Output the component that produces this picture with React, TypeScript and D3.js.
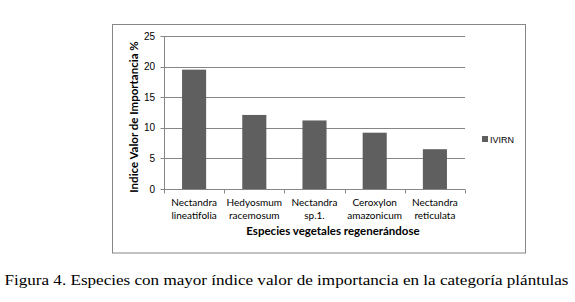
import React from "react";
import * as d3 from "d3";

const categories: string[][] = [
  ["Nectandra", "lineatifolia"],
  ["Hedyosmum", "racemosum"],
  ["Nectandra", "sp.1."],
  ["Ceroxylon", "amazonicum"],
  ["Nectandra", "reticulata"],
];
const values: number[] = [19.5, 12.1, 11.2, 9.2, 6.5];
const yTicks: number[] = [0, 5, 10, 15, 20, 25];
const seriesName = "IVIRN";
const yTitle = "Indice Valor de Importancia %";
const xTitle = "Especies vegetales regenerándose";
const caption =
  "Figura 4. Especies con mayor índice valor de importancia en la categoría plántulas";

export default function App() {
  const W = 575;
  const H = 302;
  const left = 164;
  const right = 465;
  const top = 36;
  const bottom = 189;
  const x = d3
    .scaleBand<number>()
    .domain(d3.range(values.length))
    .range([left, right])
    .paddingInner(0.6)
    .paddingOuter(0.3);
  const band = (right - left) / values.length;
  const y = d3.scaleLinear().domain([0, 25]).range([bottom, top]);
  const grid = "#868686";
  const barColor = "#5f5f5f";
  const sans = "Lato, 'Open Sans', sans-serif";
  const tickFont = "'Liberation Sans', Arial, sans-serif";

  return (
    <svg
      width={W}
      height={H}
      style={{ position: "absolute", left: 0, top: 0, background: "#fff" }}
    >
      <rect x={0} y={0} width={W} height={H} fill="#fff" />
      <rect
        x={112.5}
        y={24.5}
        width={413}
        height={228.5}
        fill="none"
        stroke={grid}
        strokeWidth={1}
      />
      {yTicks.map((t) => (
        <line
          key={"g" + t}
          x1={left - 3.5}
          x2={right}
          y1={Math.round(y(t)) + 0.5}
          y2={Math.round(y(t)) + 0.5}
          stroke={grid}
          strokeWidth={1}
        />
      ))}
      <line
        x1={left + 0.5}
        x2={left + 0.5}
        y1={Math.round(y(25)) + 0.5}
        y2={bottom + 0.5}
        stroke={grid}
      />
      {d3.range(values.length + 1).map((i) => (
        <line
          key={"xt" + i}
          x1={Math.round(left + i * band) + 0.5}
          x2={Math.round(left + i * band) + 0.5}
          y1={bottom + 0.5}
          y2={bottom + 4.5}
          stroke={grid}
        />
      ))}
      {values.map((v, i) => (
        <rect
          key={"b" + i}
          x={x(i)}
          y={y(v)}
          width={x.bandwidth()}
          height={y(0) - y(v)}
          fill={barColor}
        />
      ))}
      {yTicks.map((t) => (
        <text
          key={"yl" + t}
          x={155}
          y={y(t) + 3.5}
          textAnchor="end"
          fontFamily={tickFont}
          fontSize={10}
          fill="#000"
        >
          {t}
        </text>
      ))}
      {categories.map((c, i) => (
        <text
          key={"c" + i}
          x={left + band * (i + 0.5)}
          y={206}
          textAnchor="middle"
          fontFamily={sans}
          fontSize={10}
          fill="#000"
        >
          <tspan x={left + band * (i + 0.5)} dy={0}>
            {c[0]}
          </tspan>
          <tspan x={left + band * (i + 0.5)} dy={13}>
            {c[1]}
          </tspan>
        </text>
      ))}
      <text
        x={333}
        y={235}
        textAnchor="middle"
        fontFamily={sans}
        fontSize={11.5}
        fontWeight="bold"
        fill="#000"
      >
        {xTitle}
      </text>
      <text
        transform={`translate(138,117) rotate(-90)`}
        textAnchor="middle"
        fontFamily={sans}
        fontSize={11.5}
        fontWeight="bold"
        fill="#000"
      >
        {yTitle}
      </text>
      <rect x={482} y={136} width={6} height={6} fill={barColor} />
      <text x={490} y={142.5} fontFamily={tickFont} fontSize={9} fill="#000">
        {seriesName}
      </text>
      <text
        x={286.5}
        y={285}
        textAnchor="middle"
        fontFamily="'Liberation Serif', 'DejaVu Serif', serif"
        fontSize={15.5}
        textLength={564}
        lengthAdjust="spacingAndGlyphs"
        fill="#000"
      >
        {caption}
      </text>
    </svg>
  );
}
